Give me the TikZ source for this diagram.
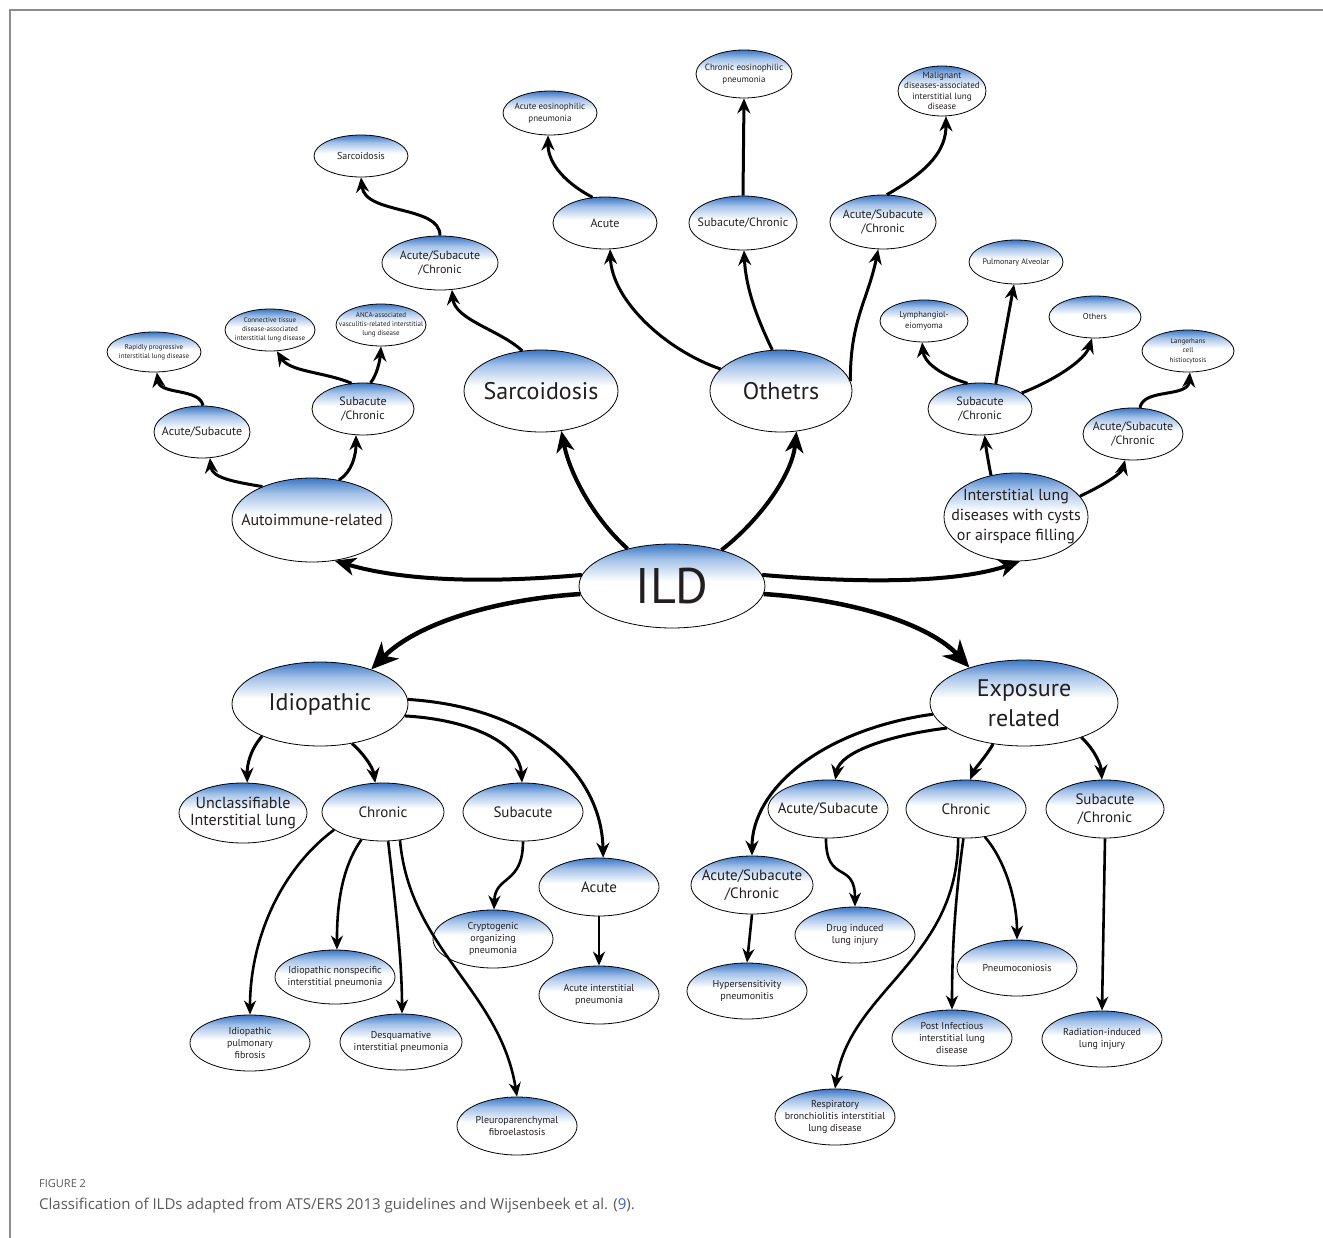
\documentclass[tikz,border=0pt]{standalone}
\usepackage{fontspec}
\setmainfont{PT Sans}
\newfontfamily\capfont{Open Sans}
\usetikzlibrary{shapes.geometric,arrows.meta}
\definecolor{shtop}{HTML}{3A76C4}
\definecolor{shmid}{HTML}{A3C1E8}
\definecolor{txt}{HTML}{231F20}
\definecolor{framec}{HTML}{8C8C8C}
\definecolor{capgray}{HTML}{5A5A5A}
\definecolor{capblue}{HTML}{3D5BD0}
\pgfdeclareverticalshading{ellsh}{100bp}{color(0bp)=(white); color(53bp)=(white); color(66bp)=(shmid); color(75bp)=(shtop); color(100bp)=(shtop)}
\newcommand\fsz[2]{\fontsize{#1}{#2}\selectfont}
\newcommand\ellN[7]{%
  \node[ell,minimum width=#4pt,minimum height=#5pt] (#1) at (#2,#3) {};
  \node[lbl,font=#6] at (#1.center) {#7};}
\begin{document}
\begin{tikzpicture}[x=1pt,y=-1pt,
  ell/.style={ellipse,draw=black,line width=0.8pt,shade,shading=ellsh,inner sep=0pt},
  lbl/.style={align=center,inner sep=0pt,text=txt},
  arr/.style={line width=3pt,-{Stealth[length=15pt,width=13pt,inset=5pt]}},
  arrs/.style={line width=2.6pt,-{Stealth[length=14pt,width=12pt,inset=4.5pt]}},
  arrm/.style={line width=4pt,-{Stealth[length=21pt,width=18pt,inset=6pt]}},
  arrb/.style={line width=4.5pt,-{Stealth[length=27pt,width=24pt,inset=8pt]}},
]
\useasboundingbox (0,0) rectangle (1323,1238);
\fill[white] (0,0) rectangle (1323,1238);
\draw[framec,line width=2pt] (10,1238) -- (10,10) -- (1323,10);

% level 0/1
\ellN{ild}{672}{586}{186}{84}{\fsz{50pt}{54pt}}{ILD}
\ellN{auto}{312}{520}{160}{84}{\fsz{16pt}{20pt}}{Autoimmune-related}
\ellN{sarc}{541}{391}{154}{82}{\fsz{24pt}{28pt}}{Sarcoidosis}
\ellN{oth}{781}{391}{142}{82}{\fsz{24pt}{28pt}}{Othetrs}
\ellN{cyst}{1016}{517}{144}{88}{\fsz{16pt}{20pt}}{Interstitial lung\\diseases with cysts\\or airspace filling}
\ellN{idio}{320}{704}{176}{84}{\fsz{24pt}{28pt}}{Idiopathic}
\ellN{expo}{1024}{703}{188}{86}{\fsz{24pt}{30pt}}{Exposure\\related}

% level 2 top
\ellN{las}{202}{432}{96}{52}{\fsz{12pt}{14pt}}{Acute/Subacute}
\ellN{lsc}{363}{409}{102}{52}{\fsz{12pt}{14pt}}{Subacute\\/Chronic}
\ellN{sasc}{440}{263}{116}{54}{\fsz{12pt}{14pt}}{Acute/Subacute\\/Chronic}
\ellN{oa}{605}{223}{104}{52}{\fsz{12pt}{14pt}}{Acute}
\ellN{osc}{743}{223}{108}{54}{\fsz{12pt}{14pt}}{Subacute/Chronic}
\ellN{oasc}{883}{222}{106}{54}{\fsz{12pt}{14pt}}{Acute/Subacute\\/Chronic}
\ellN{csc}{980}{409}{104}{52}{\fsz{12pt}{14pt}}{Subacute\\/Chronic}
\ellN{casc}{1133}{434}{100}{52}{\fsz{12pt}{14pt}}{Acute/Subacute\\/Chronic}

% level 3 top
\ellN{rapid}{154}{352}{94}{40}{\fsz{7pt}{9pt}}{Rapidly progressive\\interstitial lung disease}
\ellN{ctd}{270}{330}{90}{42}{\fsz{7pt}{9pt}}{Connective tissue\\disease-associated\\interstitial lung disease}
\ellN{anca}{381}{325}{90}{42}{\fsz{7pt}{9pt}}{ANCA-associated\\vasculitis-related interstitial\\lung disease}
\ellN{sarcs}{361}{156}{94}{42}{\fsz{10pt}{12pt}}{Sarcoidosis}
\ellN{aep}{550}{113}{94}{44}{\fsz{9pt}{12pt}}{Acute eosinophilic\\pneumonia}
\ellN{cep}{744}{74}{96}{48}{\fsz{9pt}{12pt}}{Chronic eosinophilic\\pneumonia}
\ellN{malig}{942}{91}{88}{50}{\fsz{9pt}{10.5pt}}{Malignant\\diseases-associated\\interstitial lung\\disease}
\ellN{pap}{1016}{262}{94}{44}{\fsz{8pt}{10pt}}{Pulmonary Alveolar}
\ellN{lam}{924}{321}{88}{42}{\fsz{8.5pt}{11pt}}{Lymphangiol-\\eiomyoma}
\ellN{others}{1095}{317}{92}{42}{\fsz{8.5pt}{10pt}}{Others}
\ellN{lch}{1188}{351}{92}{42}{\fsz{7pt}{9.5pt}}{Langerhans\\cell\\histiocytosis}

% level 2 bottom
\ellN{unc}{243}{813}{128}{60}{\fsz{16pt}{17pt}}{Unclassifiable\\Interstitial lung}
\ellN{ichr}{383}{812}{122}{58}{\fsz{15pt}{18pt}}{Chronic}
\ellN{isub}{523}{812}{120}{58}{\fsz{15pt}{18pt}}{Subacute}
\ellN{iac}{599}{887}{120}{58}{\fsz{15pt}{18pt}}{Acute}
\ellN{easc}{752}{885}{122}{58}{\fsz{15pt}{18pt}}{Acute/Subacute\\/Chronic}
\ellN{eas}{828}{809}{120}{58}{\fsz{15pt}{18pt}}{Acute/Subacute}
\ellN{echr}{966}{809}{120}{58}{\fsz{15pt}{18pt}}{Chronic}
\ellN{esc}{1105}{809}{118}{58}{\fsz{15pt}{18pt}}{Subacute\\/Chronic}

% level 3 bottom
\ellN{ipf}{250}{1043}{120}{56}{\fsz{10pt}{12pt}}{Idiopathic\\pulmonary\\fibrosis}
\ellN{nsip}{335}{977}{120}{54}{\fsz{10pt}{12pt}}{Idiopathic nonspecific\\interstitial pneumonia}
\ellN{dip}{401}{1042}{122}{56}{\fsz{10pt}{12pt}}{Desquamative\\interstitial pneumonia}
\ellN{ppfe}{517}{1126}{120}{58}{\fsz{10pt}{12pt}}{Pleuroparenchymal\\fibroelastosis}
\ellN{cop}{493}{939}{120}{58}{\fsz{10pt}{12pt}}{Cryptogenic\\organizing\\pneumonia}
\ellN{aip}{599}{995}{120}{58}{\fsz{10pt}{12pt}}{Acute interstitial\\pneumonia}
\ellN{hp}{747}{991}{120}{56}{\fsz{10pt}{12pt}}{Hypersensitivity\\pneumonitis}
\ellN{dili}{855}{935}{120}{56}{\fsz{10pt}{12pt}}{Drug induced\\lung injury}
\ellN{pneumo}{1017}{968}{120}{56}{\fsz{10pt}{12pt}}{Pneumoconiosis}
\ellN{pi}{952}{1038}{120}{56}{\fsz{10pt}{12pt}}{Post Infectious\\interstitial lung\\disease}
\ellN{rad}{1102}{1039}{120}{56}{\fsz{10pt}{12pt}}{Radiation-induced\\lung injury}
\ellN{rb}{835}{1117}{120}{56}{\fsz{10pt}{12pt}}{Respiratory\\bronchiolitis interstitial\\lung disease}

% connectors from ILD
\draw[arrm] (ild.173) .. controls (480,584) and (400,580) .. (auto.299);
\draw[arrm] (ild.140) .. controls (595,520) and (570,475) .. (sarc.297);
\draw[arrm] (ild.36) .. controls (760,520) and (792,475) .. (oth.291);
\draw[arrm] (ild.7) .. controls (870,584) and (960,582) .. (cyst.275);
\draw[arrb] (ild.185) .. controls (490,600) and (415,625) .. (idio.34);
\draw[arrb] (ild.355) .. controls (855,600) and (930,625) .. (expo.147);

% autoimmune branch
\draw[arr] (auto.146) .. controls (235,482) and (212,478) .. (las.287);
\draw[arr] (auto.56) .. controls (352,472) and (356,455) .. (lsc.255);
\draw[arr] (las.88) .. controls (200,388) and (160,395) .. (rapid.278);
\draw[arr] (lsc.114) .. controls (325,372) and (290,372) .. (ctd.288);
\draw[arr] (lsc.74) .. controls (377,375) and (380,360) .. (anca.270);

% sarcoidosis branch
\draw[arr] (sarc.115) .. controls (500,330) and (455,320) .. (sasc.294);
\draw[arr] (sasc.90) .. controls (440,205) and (365,215) .. (sarcs.270);

% others branch
\draw[arr] (oth.160) .. controls (665,350) and (612,300) .. (oa.281);
\draw[arr] (oth.102) .. controls (758,320) and (746,290) .. (osc.272);
\draw[arr] (oth.8) .. controls (850,320) and (868,300) .. (oasc.260);
\draw[arr] (oa.116) .. controls (560,180) and (548,160) .. (aep.265);
\draw[arr] (osc.north) -- (cep.south);
\draw[arr] (oasc.82) .. controls (930,170) and (946,150) .. (malig.279);

% cysts branch
\draw[arr] (cyst.121) .. controls (988,460) and (986,448) .. (csc.280);
\draw[arr] (cyst.18) .. controls (1110,482) and (1122,472) .. (casc.253);
\draw[arr] (csc.116) .. controls (940,375) and (924,362) .. (lam.265);
\draw[arr] (csc.58) -- (pap.265);
\draw[arr] (csc.21) .. controls (1055,380) and (1085,360) .. (others.262);
\draw[arr] (casc.75) .. controls (1143,388) and (1188,398) .. (lch.275);

% idiopathic branch
\draw[arr] (idio.209) .. controls (250,750) and (247,765) .. (unc.82);
\draw[arr] (idio.309) .. controls (365,755) and (373,768) .. (ichr.105);
\draw[arr] (idio.352) .. controls (475,720) and (520,745) .. (isub.92);
\draw[arr] (idio.3) .. controls (540,708) and (602,780) .. (iac.82);
\draw[arrs] (ichr.200) .. controls (280,870) and (250,940) .. (ipf.90);
\draw[arrs] (ichr.232) .. controls (340,870) and (337,910) .. (nsip.86);
\draw[arrs] (ichr.280) .. controls (395,900) and (402,960) .. (dip.88);
\draw[arrs] (ichr.301) .. controls (410,950) and (500,990) .. (ppfe.90);
\draw[arrs] (isub.270) .. controls (523,885) and (495,875) .. (cop.88);
\draw[arrs] (iac.south) -- (aip.north);

% exposure branch
\draw[arr] (expo.187) .. controls (820,730) and (752,790) .. (easc.90);
\draw[arr] (expo.198) .. controls (890,735) and (840,752) .. (eas.76);
\draw[arr] (expo.233) .. controls (985,758) and (975,768) .. (echr.82);
\draw[arr] (expo.329) .. controls (1095,750) and (1101,765) .. (esc.96);
\draw[arrs] (easc.south) -- (hp.north);
\draw[arrs] (eas.266) .. controls (826,885) and (855,860) .. (dili.90);
\draw[arrs] (echr.255) .. controls (958,960) and (850,990) .. (rb.90);
\draw[arrs] (echr.265) .. controls (955,900) and (952,950) .. (pi.90);
\draw[arrs] (echr.304) .. controls (1005,860) and (1017,900) .. (pneumo.90);
\draw[arrs] (esc.south) -- (rad.north);

% caption
\node[anchor=base west,inner sep=0pt,font=\capfont\fsz{11pt}{13pt},text=capgray] (figlbl) at (39,1187) {FIGURE 2};
\node[anchor=base west,inner sep=0pt,font=\capfont\fsz{15pt}{18pt},text=capgray] (caption) at (39,1209) {Classification of ILDs adapted from ATS/ERS 2013 guidelines and Wijsenbeek et al. (\textcolor{capblue}{9}).};
\end{tikzpicture}
\end{document}
